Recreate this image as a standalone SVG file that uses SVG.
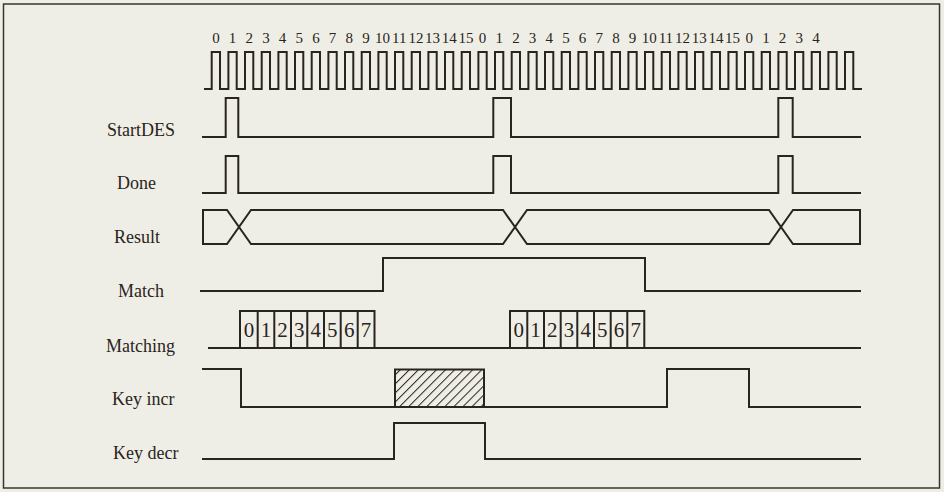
<svg xmlns="http://www.w3.org/2000/svg" width="944" height="492" viewBox="0 0 944 492">
<style>
.w{fill:none;stroke:#2a2420;stroke-width:2;stroke-linejoin:miter;stroke-linecap:square}
.lbl{font-family:"Liberation Serif","Times New Roman",serif;font-size:18px;fill:#2a2420}
.num{font-family:"Liberation Serif","Times New Roman",serif;font-size:15px;fill:#2a2420;text-anchor:middle}
.dig{font-family:"Liberation Serif","Times New Roman",serif;font-size:21px;fill:#2a2420;text-anchor:middle}
</style>
<defs>
<pattern id="hatch" patternUnits="userSpaceOnUse" width="6.4" height="6.4" patternTransform="rotate(45)">
<line x1="0" y1="0" x2="0" y2="6.4" stroke="#2a2420" stroke-width="2"/>
</pattern>
</defs>
<rect x="0" y="0" width="944" height="492" fill="#efeee6"/>
<rect x="3.5" y="4" width="936" height="484" fill="none" stroke="#3a3532" stroke-width="1.5"/>
<g id="labels">
<text class="lbl" x="107" y="136">StartDES</text>
<text class="lbl" x="117" y="189">Done</text>
<text class="lbl" x="114" y="243">Result</text>
<text class="lbl" x="118" y="297">Match</text>
<text class="lbl" x="106" y="352">Matching</text>
<text class="lbl" x="112" y="405">Key incr</text>
<text class="lbl" x="113" y="459">Key decr</text>
</g>
<g id="clock-numbers">
<text class="num" x="215.9" y="43">0</text>
<text class="num" x="232.6" y="43">1</text>
<text class="num" x="249.2" y="43">2</text>
<text class="num" x="265.9" y="43">3</text>
<text class="num" x="282.6" y="43">4</text>
<text class="num" x="299.2" y="43">5</text>
<text class="num" x="315.9" y="43">6</text>
<text class="num" x="332.6" y="43">7</text>
<text class="num" x="349.2" y="43">8</text>
<text class="num" x="365.9" y="43">9</text>
<text class="num" x="382.6" y="43">10</text>
<text class="num" x="399.2" y="43">11</text>
<text class="num" x="415.9" y="43">12</text>
<text class="num" x="432.6" y="43">13</text>
<text class="num" x="449.2" y="43">14</text>
<text class="num" x="465.9" y="43">15</text>
<text class="num" x="482.6" y="43">0</text>
<text class="num" x="499.2" y="43">1</text>
<text class="num" x="515.9" y="43">2</text>
<text class="num" x="532.6" y="43">3</text>
<text class="num" x="549.2" y="43">4</text>
<text class="num" x="565.9" y="43">5</text>
<text class="num" x="582.6" y="43">6</text>
<text class="num" x="599.2" y="43">7</text>
<text class="num" x="615.9" y="43">8</text>
<text class="num" x="632.6" y="43">9</text>
<text class="num" x="649.2" y="43">10</text>
<text class="num" x="665.9" y="43">11</text>
<text class="num" x="682.6" y="43">12</text>
<text class="num" x="699.2" y="43">13</text>
<text class="num" x="715.9" y="43">14</text>
<text class="num" x="732.6" y="43">15</text>
<text class="num" x="749.2" y="43">0</text>
<text class="num" x="765.9" y="43">1</text>
<text class="num" x="782.6" y="43">2</text>
<text class="num" x="799.2" y="43">3</text>
<text class="num" x="815.9" y="43">4</text>
</g>
<g id="clock">
<path class="w" d="M205,89 H211.7 V52 H220 V89 H228.4 V52 H236.7 V89 H245 V52 H253.3 V89 H261.7 V52 H270 V89 H278.4 V52 H286.7 V89 H295 V52 H303.3 V89 H311.7 V52 H320 V89 H328.4 V52 H336.7 V89 H345 V52 H353.3 V89 H361.7 V52 H370 V89 H378.4 V52 H386.7 V89 H395 V52 H403.3 V89 H411.7 V52 H420 V89 H428.4 V52 H436.7 V89 H445 V52 H453.3 V89 H461.7 V52 H470 V89 H478.4 V52 H486.7 V89 H495 V52 H503.3 V89 H511.7 V52 H520 V89 H528.4 V52 H536.7 V89 H545 V52 H553.3 V89 H561.7 V52 H570 V89 H578.4 V52 H586.7 V89 H595 V52 H603.3 V89 H611.7 V52 H620 V89 H628.4 V52 H636.7 V89 H645 V52 H653.3 V89 H661.7 V52 H670 V89 H678.4 V52 H686.7 V89 H695 V52 H703.3 V89 H711.7 V52 H720 V89 H728.4 V52 H736.7 V89 H745 V52 H753.3 V89 H761.7 V52 H770 V89 H778.4 V52 H786.7 V89 H795 V52 H803.3 V89 H811.7 V52 H820 V89 H828.4 V52 H836.7 V89 H845 V52 H853.3 V89 H861"/>
</g>
<g id="startdes">
<path class="w" d="M203,137 H225.7 V98 H238.3 V137 H493.3 V98 H511 V137 H778.3 V98 H792.7 V137 H860"/>
</g>
<g id="done">
<path class="w" d="M203,193 H225.7 V156 H238.3 V193 H493.3 V156 H511 V193 H778.3 V156 H792.7 V193 H860"/>
</g>
<g id="result">
<path class="w" d="M203,210 V244 H227 L251,210 H503 L527,244 H769 L793,210 H860 V244 H793 L769,210 H527 L503,244 H251 L227,210 Z"/>
</g>
<g id="match">
<path class="w" d="M201,291 H383 V258 H645 V291 H860"/>
</g>
<g id="matching">
<path class="w" d="M209,348 H860"/>
<path class="w" d="M240,348 V311 H374.5 V348 M257.7,311 V348 M274.3,311 V348 M291,311 V348 M307.3,311 V348 M324,311 V348 M340.7,311 V348 M357.7,311 V348"/>
<path class="w" d="M510,348 V311 H644.3 V348 M527.3,311 V348 M544,311 V348 M560.7,311 V348 M577.3,311 V348 M594,311 V348 M610.7,311 V348 M627.3,311 V348"/>
<text class="dig" x="249" y="337">0</text>
<text class="dig" x="266" y="337">1</text>
<text class="dig" x="282.6" y="337">2</text>
<text class="dig" x="299.2" y="337">3</text>
<text class="dig" x="315.7" y="337">4</text>
<text class="dig" x="332.3" y="337">5</text>
<text class="dig" x="349.2" y="337">6</text>
<text class="dig" x="366" y="337">7</text>
<text class="dig" x="518.7" y="337">0</text>
<text class="dig" x="535.6" y="337">1</text>
<text class="dig" x="552.3" y="337">2</text>
<text class="dig" x="569" y="337">3</text>
<text class="dig" x="585.7" y="337">4</text>
<text class="dig" x="602.3" y="337">5</text>
<text class="dig" x="619" y="337">6</text>
<text class="dig" x="635.8" y="337">7</text>
</g>
<g id="keyincr">
<path class="w" d="M203,369 H241 V407 H667 V369 H749 V407 H860"/>
<rect x="395" y="369.5" width="89" height="37.5" fill="url(#hatch)" stroke="#2a2420" stroke-width="2"/>
</g>
<g id="keydecr">
<path class="w" d="M203,459 H394 V423 H485 V459 H860"/>
</g>
</svg>
